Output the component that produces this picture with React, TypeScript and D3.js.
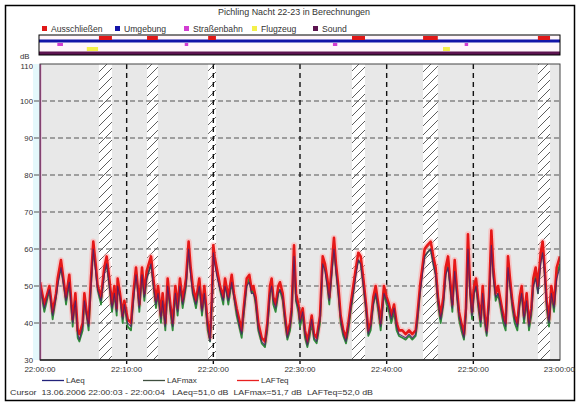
import React from 'react';
import * as d3 from 'd3';

const W = 577;
const H = 403;

const chartTitle = 'Pichling Nacht 22-23 in Berechnungen';
const eventNames = ['Ausschließen', 'Umgebung', 'Straßenbahn', 'Flugzeug', 'Sound'];
const eventColors = ['#e01818', '#1414a8', '#d23cd2', '#f4f04a', '#5c1450'];
const seriesNames = ['LAeq', 'LAFmax', 'LAFTeq'];
const seriesColors = ['#23237a', '#3f4f3f', '#e82020'];
const cursorText = 'Cursor  13.06.2006 22:00:03 - 22:00:04   LAeq=51,0 dB  LAFmax=51,7 dB  LAFTeq=52,0 dB';

const yTicks = [30, 40, 50, 60, 70, 80, 90, 100, 110];
const xTickMin = [0, 10, 20, 30, 40, 50, 60];
const xTickLabels = ['22:00:00', '22:10:00', '22:20:00', '22:30:00', '22:40:00', '22:50:00', '23:00:00'];

// event intervals (minutes after 22:00)
const excludeEvents = [[6.8, 8.3], [12.35, 13.6], [19.4, 20.3], [36.0, 37.5], [44.2, 45.9], [57.45, 58.85]];
const tramEvents = [[2.0, 2.65], [16.7, 17.1], [33.8, 34.3], [49.0, 49.4]];
const planeEvents = [[5.4, 6.7], [46.5, 47.3]];
const cursorMin = 0.05;

// time axis samples (minutes after 22:00)
const timesMin = [
  0.0, 0.5, 1.08, 1.46, 1.85, 2.04, 2.42, 2.81, 3.0, 3.38,
  3.77, 3.96, 4.08, 4.35, 4.54, 4.92, 5.12, 5.38, 5.61, 5.88,
  6.15, 6.46, 6.65, 7.04, 7.42, 7.69, 8.0, 8.31, 8.58, 8.85,
  8.96, 9.23, 9.54, 9.73, 10.12, 10.5, 10.77, 11.08, 11.27, 11.46,
  11.77, 12.04, 12.31, 12.81, 13.08, 13.38, 13.62, 13.96, 14.15, 14.46,
  14.73, 15.04, 15.31, 15.62, 15.88, 16.15, 16.46, 16.85, 17.15, 17.38,
  17.62, 18.0, 18.38, 18.69, 18.96, 19.35, 19.62, 19.85, 20.0, 20.15,
  20.38, 20.77, 21.15, 21.35, 21.73, 22.12, 22.38, 22.69, 23.08, 23.27,
  23.46, 23.85, 24.15, 24.42, 24.62, 24.88, 25.19, 25.58, 25.96, 26.23,
  26.54, 26.73, 26.92, 27.19, 27.5, 27.69, 28.0, 28.27, 28.54, 28.85,
  29.04, 29.31, 29.54, 29.81, 30.0, 30.31, 30.58, 30.85, 31.08, 31.35,
  31.62, 31.92, 32.31, 32.62, 32.88, 33.15, 33.38, 33.65, 33.92, 34.15,
  34.42, 34.69, 35.0, 35.31, 35.58, 35.85, 36.15, 36.46, 36.73, 37.0,
  37.31, 37.62, 37.88, 38.15, 38.46, 38.73, 39.04, 39.31, 39.69, 40.0,
  40.27, 40.54, 40.85, 41.15, 41.42, 41.81, 42.19, 42.58, 42.96, 43.35,
  43.54, 43.85, 44.12, 44.38, 44.69, 45.08, 45.38, 45.65, 45.92, 46.23,
  46.54, 46.81, 47.08, 47.31, 47.58, 47.85, 48.08, 48.35, 48.62, 48.92,
  49.15, 49.38, 49.62, 49.85, 50.08, 50.31, 50.58, 50.85, 51.08, 51.31,
  51.54, 51.81, 52.08, 52.31, 52.58, 52.85, 53.15, 53.46, 53.73, 54.0,
  54.23, 54.5, 54.77, 55.08, 55.35, 55.58, 55.85, 56.15, 56.42, 56.69,
  56.92, 57.19, 57.46, 57.77, 58.0, 58.23, 58.46, 58.73, 59.0, 59.31,
  59.62, 60.0,
];

const lafteq = [
  51, 45, 50, 43, 48, 52, 57, 50, 47, 53,
  41, 45, 48, 38, 37, 40, 48, 43, 40, 52,
  62, 55, 50, 47, 55, 58, 52, 45, 50, 44,
  52, 48, 42, 46, 41, 40, 48, 55, 50, 45,
  55, 48, 54, 58, 52, 46, 50, 42, 48, 40,
  52, 45, 40, 50, 44, 52, 46, 52, 62, 55,
  50, 46, 52, 44, 50, 40, 36, 48, 61, 58,
  55, 50, 47, 52, 47, 53, 48, 44, 40, 38,
  43, 52, 53, 49, 50, 47, 40, 36, 35, 40,
  50, 52, 47, 45, 50, 51, 48, 42, 37, 40,
  44, 61, 48, 45, 41, 44, 38, 35, 38, 42,
  37, 36, 42, 58, 56, 52, 47, 55, 63, 56,
  50, 42, 38, 36, 40, 45, 50, 55, 59, 58,
  52, 45, 38, 40, 47, 50, 45, 40, 50, 47,
  45, 42, 45, 40, 38, 38, 37, 38, 37, 38,
  42, 50, 55, 60, 61, 62, 58, 55, 47, 42,
  47, 55, 58, 52, 45, 57, 50, 43, 40, 37,
  44, 64, 50, 43, 50, 52, 46, 41, 50, 42,
  38, 47, 65, 55, 48, 50, 46, 42, 40, 58,
  52, 46, 42, 40, 47, 50, 42, 48, 40, 44,
  52, 55, 50, 59, 62, 55, 46, 41, 50, 45,
  55, 58,
];

const laeq = [
  50, 44, 49, 42, 47, 50, 55, 49, 46, 51,
  40, 44, 46, 37, 35.5, 39, 46, 42, 39, 50,
  60, 53, 49, 46, 53, 56, 50, 44, 48, 43,
  50, 47, 41, 45, 40, 39, 46, 53, 49, 44,
  53, 47, 52, 56, 50, 45, 48, 41, 46, 39,
  50, 44, 39, 48, 43, 50, 45, 50, 60, 53,
  48, 45, 50, 43, 48, 39, 35, 46, 59, 56,
  53, 49, 46, 50, 46, 51, 47, 43, 38.5, 37,
  42, 50, 51, 48, 48, 46, 38.5, 35, 34, 39,
  48, 50, 46, 44, 48, 49, 47, 41, 36, 39,
  43, 58, 46, 44, 40, 43, 37, 34, 37, 41,
  36, 35, 41, 56, 54, 50, 46, 53, 60, 54,
  48, 41, 37, 35, 39, 44, 48, 53, 57, 56,
  50, 44, 37, 39, 45, 48, 44, 39, 48, 46,
  44, 41, 44, 39, 37, 36.5, 36, 37, 36, 37,
  41, 48, 53, 58, 59, 60, 56, 53, 46, 41,
  45, 53, 55, 50, 44, 54, 48, 42, 39, 36,
  43, 60, 48, 42, 48, 50, 45, 40, 48, 41,
  37, 45, 61, 52, 47, 48, 45, 41, 39, 55,
  50, 45, 41, 39, 45, 48, 41, 46, 39, 43,
  50, 52, 48, 56, 59, 53, 45, 40, 48, 44,
  52, 55,
];

const lafmax = [
  50, 43, 49, 41, 47, 51, 55, 49, 45, 51,
  39, 44, 46, 36, 35, 38, 46, 42, 38, 50,
  60, 54, 49, 45, 54, 56, 50, 43, 48, 42,
  50, 47, 40, 45, 39, 38, 46, 54, 49, 43,
  53, 46, 52, 56, 50, 44, 48, 40, 46, 38,
  50, 43, 38, 48, 42, 50, 44, 50, 60, 54,
  48, 44, 50, 42, 48, 38, 35, 46, 59, 57,
  54, 49, 45, 51, 45, 51, 47, 42, 38, 36,
  41, 50, 52, 48, 49, 45, 38, 34.5, 33.5, 38,
  48, 50, 45, 43, 48, 49, 46, 40, 35.5, 38,
  42, 58, 46, 43, 39, 42, 36, 33.5, 36, 40,
  35.5, 34.5, 40, 56, 55, 50, 45, 53, 61, 54,
  48, 40, 36.5, 34.5, 38, 43, 48, 54, 57, 56,
  50, 43, 36.5, 38, 45, 48, 43, 38, 48, 45,
  43, 40, 43, 38, 36.5, 36, 35.5, 36.5, 35.5, 36.5,
  40, 48, 54, 58, 59, 60, 56, 53, 45, 40,
  45, 53, 56, 50, 43, 55, 48, 41, 38, 35.5,
  42, 61, 48, 41, 48, 50, 44, 39, 48, 40,
  36.5, 45, 62, 53, 46, 48, 44, 40, 38, 56,
  50, 44, 40, 38, 45, 48, 40, 46, 38, 42,
  50, 53, 48, 57, 60, 53, 44, 39, 48, 43,
  53, 56,
];

const FONT = 'Liberation Sans, Arial, sans-serif';

export default function App() {
  const L = 40, R = 560, T = 64, B = 360;
  const x = d3.scaleLinear().domain([0, 60]).range([L, R]);
  const y = d3.scaleLinear().domain([30, 110]).range([B, T]);

  const mk = (vals: number[]) =>
    d3.line<number>().x((_, i) => x(timesMin[i])).y((v) => y(v))(vals) || '';

  const evTop = 35, evBot = 55;
  const legendX = [42, 115, 184, 252, 313];
  const botLegX = [42, 143, 237];
  const txt = '#333';

  return (
    <svg width={W} height={H} style={{ position: 'absolute', left: 0, top: 0, background: '#fff' }}
      fontFamily={FONT}>
      <defs>
        <pattern id="hatch" patternUnits="userSpaceOnUse" width="9" height="9">
          <rect width="9" height="9" fill="#fff" />
          <path d="M-1,1 l2,-2 M0,9 l9,-9 M8,10 l2,-2" stroke="#333" strokeWidth="0.8" />
        </pattern>
        <clipPath id="plotclip">
          <rect x={L} y={T} width={R - L} height={B - T} />
        </clipPath>
      </defs>

      <rect x={5.5} y={5.5} width={569} height={395} fill="#fff" stroke="#000" strokeWidth={1.5} />

      <text x={294} y={15} fontSize={8.3} textAnchor="middle" fill={txt}
        textLength={152} lengthAdjust="spacingAndGlyphs">{chartTitle}</text>

      {eventNames.map((n, i) => (
        <g key={n}>
          <rect x={legendX[i]} y={26} width={5} height={5} fill={eventColors[i]} />
          <text x={legendX[i] + 9} y={31.5} fontSize={8.6} fill={txt}>{n}</text>
        </g>
      ))}

      {/* event bar */}
      <rect x={L - 1} y={evTop} width={R - L + 1} height={evBot - evTop} fill="#fff6fb" />
      <rect x={L - 1} y={39.5} width={R - L + 1} height={3} fill={eventColors[1]} />
      {excludeEvents.map((e, i) => (
        <rect key={'ex' + i} x={x(e[0])} y={36} width={x(e[1]) - x(e[0])} height={4} fill={eventColors[0]} />
      ))}
      {tramEvents.map((e, i) => (
        <rect key={'tr' + i} x={x(e[0])} y={43} width={x(e[1]) - x(e[0])} height={3} fill={eventColors[2]} />
      ))}
      {planeEvents.map((e, i) => (
        <rect key={'pl' + i} x={x(e[0])} y={47} width={x(e[1]) - x(e[0])} height={4} fill={eventColors[3]} />
      ))}
      <rect x={L - 1} y={51.5} width={R - L + 1} height={3.5} fill={eventColors[4]} />
      <rect x={L - 1} y={evTop} width={R - L + 1} height={evBot - evTop} fill="none" stroke="#000" strokeWidth={1} />

      {/* y axis labels */}
      <text x={20} y={59} fontSize={7.8} fill={txt}>dB</text>
      {yTicks.map((t) => (
        <text key={t} x={33} y={y(t) + (t === 110 ? 5 : 3)} fontSize={7.8} textAnchor="end" fill={txt}>{t}</text>
      ))}

      {/* plot bg */}
      <rect x={33} y={T} width={L - 33} height={B - T} fill="#e4f8fb" />
      <rect x={L} y={T} width={R - L} height={B - T} fill="#e8e8e8" />
      {excludeEvents.map((e, i) => (
        <rect key={'h' + i} x={x(e[0])} y={T} width={x(e[1]) - x(e[0])} height={B - T} fill="url(#hatch)" />
      ))}

      {/* grid */}
      {yTicks.filter((t) => t > 30 && t < 110).map((t) => (
        <line key={'g' + t} x1={34} x2={R} y1={y(t)} y2={y(t)} stroke="#555" strokeWidth={1.2} strokeDasharray="5,3" />
      ))}
      {xTickMin.filter((t) => t > 0 && t < 60).map((t) => (
        <line key={'v' + t} x1={x(t)} x2={x(t)} y1={T} y2={B + 4} stroke="#111" strokeWidth={1.4} strokeDasharray="5,4" />
      ))}

      {/* data */}
      <g clipPath="url(#plotclip)" strokeLinejoin="round" fill="none">
        <path d={mk(lafteq)} stroke="#ffaaaa" strokeWidth={6} opacity={0.55} />
        <path d={mk(lafmax)} stroke="#2f8a3a" strokeWidth={1.8} />
        <path d={mk(lafteq)} stroke="#e61818" strokeWidth={2.6} />
        <path d={mk(laeq)} stroke="#4a1f6a" strokeWidth={1.1} opacity={0.85} />
      </g>

      {/* cursor */}
      <line x1={x(cursorMin)} x2={x(cursorMin)} y1={T} y2={B} stroke="#c2409c" strokeWidth={1.5} />

      {/* frame */}
      <rect x={L} y={T} width={R - L} height={B - T} fill="none" stroke="#444" strokeWidth={1} />
      <line x1={L} x2={R} y1={B} y2={B} stroke="#222" strokeWidth={1.5} />

      {xTickMin.map((t, i) => (
        <text key={'xl' + t} x={i === xTickMin.length - 1 ? 575 : x(t)} y={372} fontSize={8}
          textAnchor={i === xTickMin.length - 1 ? 'end' : 'middle'} fill={txt}>{xTickLabels[i]}</text>
      ))}

      {/* bottom legend */}
      {seriesNames.map((n, i) => (
        <g key={n}>
          <line x1={botLegX[i]} x2={botLegX[i] + 22} y1={380.5} y2={380.5} stroke={seriesColors[i]} strokeWidth={1.3} />
          <text x={botLegX[i] + 24} y={383} fontSize={8} fill={txt}>{n}</text>
        </g>
      ))}
      <text x={10} y={395} fontSize={8} fill={txt} style={{ whiteSpace: 'pre' }}
        textLength={363} lengthAdjust="spacingAndGlyphs">{cursorText}</text>
    </svg>
  );
}
